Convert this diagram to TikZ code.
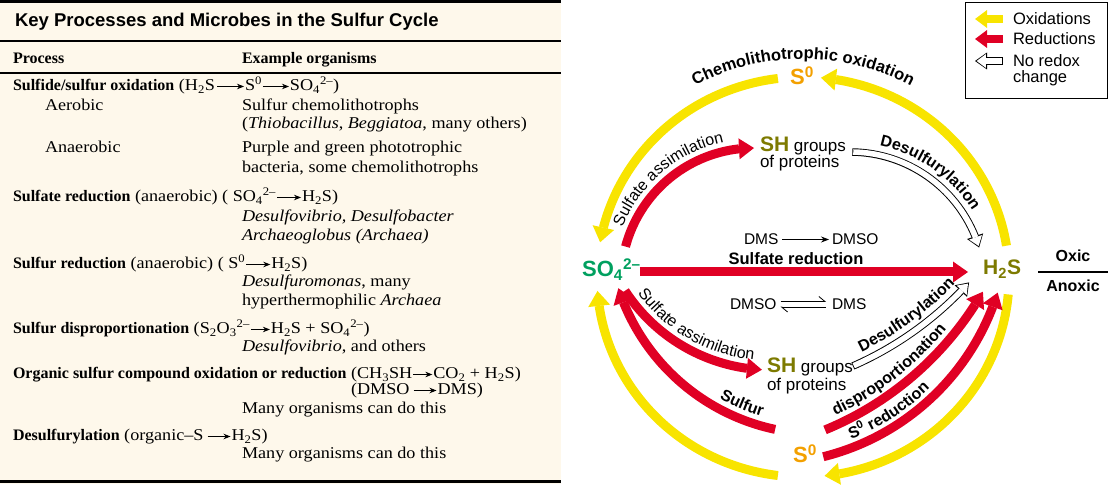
\documentclass[tikz,border=0pt]{standalone}
\usepackage{fontspec}
\setmainfont{Liberation Serif}
\newfontfamily\regfont{Liberation Serif}[FakeStretch=1.1]
\setsansfont{Liberation Sans}
\usetikzlibrary{arrows.meta,bending,decorations.text}
\definecolor{cream}{RGB}{254,248,235}
\definecolor{cyel}{RGB}{248,228,0}
\definecolor{cred}{RGB}{224,0,36}
\definecolor{cgreen}{RGB}{0,160,95}
\definecolor{colive}{RGB}{125,122,0}
\definecolor{corange}{RGB}{243,160,0}
\newcommand\fsz[1]{\fontsize{#1}{#1}\selectfont}
\newcommand\B[1]{{\rmfamily\bfseries\fsz{16}#1}}
\newcommand\hollowarrow[1]{\draw[hout] #1; \draw[hin] #1;}
\begin{document}
\begin{tikzpicture}[x=1pt,y=1pt,
 tx/.style={anchor=base west,inner sep=0pt,outer sep=0pt,font=\regfont\fsz{16.5}},
 dg/.style={anchor=base west,inner sep=0pt,outer sep=0pt,font=\sffamily\fsz{16}},
 tarr/.style={line width=0.8pt,-{Stealth[length=7pt,width=5.5pt]}},
 yarr/.style={draw=cyel,line width=9pt,-{Triangle[width=22pt,length=15pt,line width=0pt]}},
 rarr/.style={draw=cred,line width=9pt,-{Triangle[width=21pt,length=15pt,line width=0pt]}},
 lyarr/.style={draw=cyel,line width=8pt,-{Triangle[width=18pt,length=12pt,line width=0pt]}},
 lrarr/.style={draw=cred,line width=8pt,-{Triangle[width=18pt,length=12pt,line width=0pt]}},
 hout/.style={draw=black,line width=7.5pt,-{Triangle[width=17pt,length=12pt,line width=0pt]}},
 hin/.style={draw=white,line width=5.6pt,shorten >=1.6pt,shorten <=0.9pt,-{Triangle[width=13.6pt,length=9.2pt,line width=0pt]}},
 thin/.style={line width=0.8pt},
 arclabel/.style={decorate,decoration={text along path,text align=center,text={#1}}},
]
\useasboundingbox (0,0) rectangle (1110,486);
% ---------------- table ----------------
\fill[cream] (0,2) rectangle (561,486);
\draw[line width=3pt] (0,484.5) -- (561,484.5);
\draw[line width=2pt] (0,445) -- (561,445);
\draw[line width=2pt] (0,413) -- (561,413);
\draw[line width=3pt] (0,4) -- (561,4);
\node[tx,font=\sffamily\bfseries\fsz{18.5}] (title) at (15,459) {Key Processes and Microbes in the Sulfur Cycle};
\node[tx] (hproc) at (13,422) {\B{Process}};
\node[tx] (horg) at (242,422) {\B{Example organisms}};
% row 1
\node[tx] (p1a) at (13,395) {\B{Sulfide/sulfur oxidation} (H\textsubscript{2}S};
\node[tx] (p1b) at ([xshift=30pt]p1a.base east) {S\textsuperscript{0}};
\node[tx] (p1c) at ([xshift=28pt]p1b.base east) {SO\textsubscript{4}\textsuperscript{2–})};
\draw[tarr] ([shift={(2,4.5)}]p1a.base east) -- ([shift={(-1,4.5)}]p1b.base west);
\draw[tarr] ([shift={(1,4.5)}]p1b.base east) -- ([shift={(-1,4.5)}]p1c.base west);
\node[tx] (aer) at (45,375) {Aerobic};
\node[tx] (aer1) at (242,375) {Sulfur chemolithotrophs};
\node[tx] (aer2) at (242,357) {(\textit{Thiobacillus}, \textit{Beggiatoa}, many others)};
\node[tx] (ana) at (45,333) {Anaerobic};
\node[tx] (ana1) at (242,333) {Purple and green phototrophic};
\node[tx] (ana2) at (242,313) {bacteria, some chemolithotrophs};
% row 2
\node[tx] (p2a) at (13,284) {\B{Sulfate reduction} (anaerobic) ( SO\textsubscript{4}\textsuperscript{2–}};
\node[tx] (p2b) at ([xshift=26pt]p2a.base east) {H\textsubscript{2}S)};
\draw[tarr] ([shift={(1,4.5)}]p2a.base east) -- ([shift={(-1,4.5)}]p2b.base west);
\node[tx] (p2c) at (242,264) {\textit{Desulfovibrio, Desulfobacter}};
\node[tx] (p2d) at (242,245) {\textit{Archaeoglobus (Archaea)}};
% row 3
\node[tx] (p3a) at (13,217) {\B{Sulfur reduction} (anaerobic) ( S\textsuperscript{0}};
\node[tx] (p3b) at ([xshift=26pt]p3a.base east) {H\textsubscript{2}S)};
\draw[tarr] ([shift={(1,4.5)}]p3a.base east) -- ([shift={(-1,4.5)}]p3b.base west);
\node[tx] (p3c) at (242,199) {\textit{Desulfuromonas}, many};
\node[tx] (p3d) at (242,180) {hyperthermophilic \textit{Archaea}};
% row 4
\node[tx] (p4a) at (13,152) {\B{Sulfur disproportionation} (S\textsubscript{2}O\textsubscript{3}\textsuperscript{2–}};
\node[tx] (p4b) at ([xshift=21pt]p4a.base east) {H\textsubscript{2}S + SO\textsubscript{4}\textsuperscript{2–})};
\draw[tarr] ([shift={(1,4.5)}]p4a.base east) -- ([shift={(-1,4.5)}]p4b.base west);
\node[tx] (p4c) at (242,134) {\textit{Desulfovibrio}, and others};
% row 5
\node[tx] (p5a) at (13,107) {\B{Organic sulfur compound oxidation or reduction}};
\node[tx] (p5b) at ([xshift=4.5pt]p5a.base east) {(CH\textsubscript{3}SH};
\node[tx] (p5c) at ([xshift=21pt]p5b.base east) {CO\textsubscript{2} + H\textsubscript{2}S)};
\draw[tarr] ([shift={(1,4.5)}]p5b.base east) -- ([shift={(-1,4.5)}]p5c.base west);
\node[tx] (p5d) at (p5b.base west |- 0,91) {(DMSO};
\node[tx] (p5e) at ([xshift=28pt]p5d.base east) {DMS)};
\draw[tarr] ([shift={(4,4.5)}]p5d.base east) -- ([shift={(-1,4.5)}]p5e.base west);
\node[tx] (p5f) at (242,72) {Many organisms can do this};
% row 6
\node[tx] (p6a) at (13,45) {\B{Desulfurylation} (organic–S};
\node[tx] (p6b) at ([xshift=28pt]p6a.base east) {H\textsubscript{2}S)};
\draw[tarr] ([shift={(4,4.5)}]p6a.base east) -- ([shift={(-1,4.5)}]p6b.base west);
\node[tx] (p6c) at (242,27) {Many organisms can do this};
% ---------------- diagram ----------------
\coordinate (C0) at (803,209);
\coordinate (Ca) at (754,205);
\coordinate (Cb) at (850,199);
\coordinate (Cc) at (771,290);
\coordinate (Cd) at (819,263);
\coordinate (Ce) at (701,357);
\coordinate (Cf) at (764,267);
\coordinate (Cg) at (715,434);
% species
\node[anchor=base west,inner sep=0pt,font=\sffamily\bfseries\fsz{22},text=cgreen] (so4) at (582,209) {SO\textsubscript{4}\textsuperscript{2–}};
\node[anchor=base west,inner sep=0pt,font=\sffamily\bfseries\fsz{21},text=colive] (h2s) at (983,211) {H\textsubscript{2}S};
\node[anchor=base west,inner sep=0pt,font=\sffamily\bfseries\fsz{22},text=corange] (s0t) at (790,401) {S\textsuperscript{0}};
\node[anchor=base west,inner sep=0pt,font=\sffamily\bfseries\fsz{22},text=corange] (s0b) at (793,23) {S\textsuperscript{0}};
\node[dg,font=\sffamily\fsz{17}] (sht) at (760,334) {\textcolor{colive}{\bfseries\fsz{21}SH} groups};
\node[dg,font=\sffamily\fsz{17}] (sht2) at (760,318) {of proteins};
\node[dg,font=\sffamily\fsz{17}] (shb) at (767,113) {\textcolor{colive}{\bfseries\fsz{21}SH} groups};
\node[dg,font=\sffamily\fsz{17}] (shb2) at (767,95) {of proteins};
% DMS lines
\node[dg,font=\sffamily\fsz{15.5}] (dms1) at (744,241) {DMS};
\node[dg,font=\sffamily\fsz{15.5}] (dmso1) at (832,241) {DMSO};
\draw[thin,-{Stealth[length=8pt,width=6pt]}] ([shift={(4,5.5)}]dms1.base east) -- ([shift={(-3,5.5)}]dmso1.base west);
\node[dg,font=\sffamily\fsz{15.5}] (dmso2) at (730,176) {DMSO};
\node[dg,font=\sffamily\fsz{15.5}] (dms2) at (832,176) {DMS};
\draw[thin,-{Straight Barb[left,length=6pt,width=10pt]}] ([shift={(4,8.5)}]dmso2.base east) -- ([shift={(-6,8.5)}]dms2.base west);
\draw[thin,-{Straight Barb[left,length=6pt,width=10pt]}] ([shift={(-6,3)}]dms2.base west) -- ([shift={(4,3)}]dmso2.base east);
% sulfate reduction
\node[anchor=base,inner sep=0pt,font=\sffamily\bfseries\fsz{16.5}] (srl) at (796,221) {Sulfate reduction};
\draw[rarr] ([shift={(-1,5)}]so4.base east) -- ([shift={(-15,3)}]h2s.base west);
% outer yellow arcs
\draw[yarr] ([shift={(97:206 and 200)}]C0) arc[start angle=97,end angle=170,x radius=206,y radius=200];
\draw[yarr] ([shift={(9:206 and 200)}]C0) arc[start angle=9,end angle=85,x radius=206,y radius=200];
\draw[yarr] ([shift={(263:206 and 200)}]C0) arc[start angle=263,end angle=184,x radius=206,y radius=200];
\draw[yarr] ([shift={(-5:206 and 200)}]C0) arc[start angle=-5,end angle=-84,x radius=206,y radius=200];
\path[arclabel={|\sffamily\bfseries\fsz{16.5}|Chemolithotrophic oxidation}]
  ([shift={(135:224 and 218)}]C0) arc[start angle=135,end angle=45,x radius=224,y radius=218];
% red arcs
\draw[rarr] ([shift={(165:133)}]Ca) arc[start angle=165,end angle=90,radius=133];
\path[arclabel={|\sffamily\fsz{16}|Sulfate assimilation}]
  ([shift={(165:142)}]Ca) arc[start angle=165,end angle=95,radius=142];
\draw[rarr] ([shift={(213:174)}]Cc) arc[start angle=213,end angle=267,radius=174];
\path[arclabel={|\sffamily\fsz{16}|Sulfate assimilation}]
  ([shift={(212:165)}]Cc) arc[start angle=212,end angle=268,radius=165];
\draw[rarr] ([shift={(258:211)}]Cd) arc[start angle=258,end angle=198,radius=211];
\path[arclabel={|\sffamily\bfseries\fsz{16}|Sulfur}]
  ([shift={(235:202)}]Cd) arc[start angle=235,end angle=259,radius=202];
\draw[rarr] ([shift={(-67.6:325.5)}]Ce) arc[start angle=-67.6,end angle=-30,radius=325.5];
\path[arclabel={|\sffamily\bfseries\fsz{16}|disproportionation}]
  ([shift={(-67:316.5)}]Ce) arc[start angle=-67,end angle=-37,radius=316.5];
\draw[rarr] ([shift={(-76:245)}]Cf) arc[start angle=-76,end angle=-17.5,radius=245];
\path[arclabel={|\sffamily\bfseries\fsz{16}|S{\textsuperscript{0}} reduction}]
  ([shift={(-77:237)}]Cf) arc[start angle=-77,end angle=-37,radius=237];
% hollow arrows
\hollowarrow{([shift={(89:135)}]Cb) arc[start angle=89,end angle=17,radius=135]}
\path[arclabel={|\sffamily\bfseries\fsz{16}|Desulfurylation}]
  ([shift={(95:144)}]Cb) arc[start angle=95,end angle=15,radius=144];
\hollowarrow{([shift={(-66.3:343)}]Cg) arc[start angle=-66.3,end angle=-42.2,radius=343]}
\path[arclabel={|\sffamily\bfseries\fsz{16}|Desulfurylation}]
  ([shift={(-67:334)}]Cg) arc[start angle=-67,end angle=-41,radius=334];
% oxic / anoxic
\node[anchor=base,inner sep=0pt,font=\sffamily\bfseries\fsz{16}] (oxic) at (1073,224) {Oxic};
\node[anchor=base,inner sep=0pt,font=\sffamily\bfseries\fsz{16}] (anoxic) at (1073,194) {Anoxic};
\coordinate (oxl) at ([yshift=-10pt]oxic.base -| 1038,0);
\coordinate (oxr) at ([yshift=-10pt]oxic.base -| 1108,0);
\draw[line width=1.2pt] (oxl) -- (oxr);
% legend
\draw[line width=0.8pt] (965,484) rectangle (1107,388);
\node[dg,font=\sffamily\fsz{16.5}] (lox) at (1013,461) {Oxidations};
\node[dg,font=\sffamily\fsz{16.5}] (lred) at (1013,441) {Reductions};
\node[dg,font=\sffamily\fsz{16.5}] (lno) at (1013,419) {No redox};
\node[dg,font=\sffamily\fsz{16.5}] (lch) at (1013,403) {change};
\draw[lyarr] ([shift={(-10,6)}]lox.base west) -- ++(-28,0);
\draw[lrarr] ([shift={(-10,6)}]lred.base west) -- ++(-28,0);
\hollowarrow{([shift={(-10,6)}]lno.base west) -- ++(-28,0)}
\end{tikzpicture}
\end{document}
